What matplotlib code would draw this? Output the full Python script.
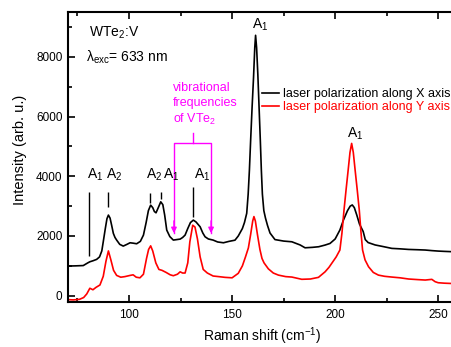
import matplotlib
matplotlib.use("Agg")
import matplotlib.pyplot as plt
from matplotlib.ticker import MultipleLocator

plt.rcParams['font.family'] = ['Liberation Sans', 'DejaVu Sans']
plt.rcParams['mathtext.fontset'] = 'custom'
plt.rcParams['mathtext.rm'] = 'Liberation Sans'
plt.rcParams['mathtext.it'] = 'Liberation Sans:italic'

# Raman spectra, laser polarization along X (black) and Y (red)
x_pol_shift = [70, 74, 77.8, 80, 81, 82.5, 84.3, 85.7, 86.8, 87.5, 88.5, 89.3, 90, 90.8, 91.6,
               92.4, 93.2, 94, 95.5, 97.2, 99, 100.5, 102, 103.7, 105.5, 107, 108.3, 109.4,
               110.5, 111.5, 112.3, 113.1, 114.2, 115.4, 116.4, 117.3, 118.3, 119.8, 121.5,
               123.2, 124.8, 126, 127.2, 128.5, 129.8, 131.2, 132.5, 134.5, 135.8, 136.9,
               138.5, 140.8, 143, 145.8, 148.5, 151.4, 153, 155, 156, 157.1, 157.8, 158.4,
               159.0, 159.7, 160.4, 161.0, 161.4, 161.9, 162.5, 163.1, 163.7, 164.2, 164.7,
               165.4, 166.2, 167.2, 168.4, 170.8, 175, 179, 183, 185.4, 189, 192, 195.1,
               197.5, 200, 202.3, 204, 206, 207.3, 208.3, 209.3, 210.5, 211.8, 213.6, 214.6,
               216, 219.4, 223, 227.5, 231.5, 235.6, 240, 243.7, 247, 250, 253, 256.5]
x_pol_int = [993, 1000, 1010, 1100, 1137, 1170, 1217, 1300, 1500, 1806, 2250, 2580, 2700, 2600,
             2350, 2087, 1950, 1863, 1720, 1662, 1720, 1773, 1760, 1740, 1820, 2030, 2450, 2850,
             3033, 2950, 2820, 2776, 2950, 3144, 3050, 2700, 2197, 1980, 1863, 1880, 1896, 1950,
             2030, 2250, 2450, 2532, 2470, 2308, 2100, 1973, 1900, 1863, 1800, 1773, 1820, 1860,
             2000, 2250, 2450, 2760, 3400, 4200, 5200, 6300, 7300, 8300, 8720, 8300, 7400, 6300,
             5200, 4200, 3400, 2850, 2600, 2350, 2100, 1880, 1830, 1806, 1700, 1605, 1620, 1640,
             1696, 1750, 1900, 2200, 2530, 2850, 3000, 3040, 2950, 2700, 2400, 2150, 1880, 1780,
             1700, 1650, 1585, 1570, 1550, 1540, 1530, 1510, 1495, 1485, 1475]

y_pol_shift = [70, 73, 76, 78, 79.5, 81, 82.5, 84, 85.9, 87.5, 88.8, 90, 91.2, 92.5, 94, 96, 98,
               100.5, 102, 103.5, 105.3, 107, 108.5, 109.5, 110.5, 111.5, 113, 114.5, 116, 118,
               120, 121.5, 123.5, 124.8, 126, 127.2, 128.5, 129.5, 130.9, 132, 133.2, 134.5, 136,
               138, 140.8, 143.5, 146.6, 150, 153, 155, 156.5, 157.9, 159, 160, 160.6, 161.3,
               162.3, 163.5, 164.5, 165.5, 167.6, 170, 172.5, 176, 179, 183.8, 188, 191.9, 195.1,
               197, 199, 200.5, 202.3, 203.3, 204.3, 205.3, 206.3, 207.2, 208.0, 208.8, 209.7,
               210.7, 211.7, 212.5, 213.3, 214.5, 216.2, 218.5, 221, 224, 227.5, 231.5, 235.6,
               240, 243.7, 246.9, 248.5, 250, 253, 256.5]
y_pol_int = [-130, -140, -120, -60, 60, 250, 200, 280, 360, 650, 1150, 1500, 1200, 850, 680, 620,
             640, 680, 700, 620, 600, 720, 1250, 1550, 1670, 1500, 1100, 880, 850, 780, 700, 670,
             720, 800, 760, 760, 1100, 1800, 2360, 2300, 1900, 1300, 880, 760, 660, 640, 615, 600,
             750, 1000, 1300, 1600, 2050, 2500, 2650, 2500, 2050, 1550, 1250, 1100, 900, 760, 690,
             640, 625, 550, 560, 615, 800, 950, 1150, 1300, 1530, 2100, 2870, 3550, 4200, 4800,
             5100, 4800, 4200, 3550, 2870, 2150, 1530, 1200, 970, 780, 690, 650, 625, 600, 560,
             540, 525, 548, 470, 435, 420, 410]

# mode labels: text, left x, y ; marker lines: x, bottom, top
mode_labels = ['A$_1$', 'A$_2$', 'A$_2$', 'A$_1$', 'A$_1$', 'A$_1$', 'A$_1$']
mode_label_x = [79.8, 88.8, 108.1, 116.3, 131.7, 159.5, 205.9]
mode_label_y = [4050, 4050, 4050, 4050, 4050, 9060, 5430]
marker_x = [80.8, 90.0, 110.2, 115.5, 130.9]
marker_lo = [1330, 2980, 3110, 3230, 2640]
marker_hi = [3480, 3480, 3450, 3480, 3630]

# VTe2 vibrational frequencies
vte2_x = [121.8, 139.8]

fig = plt.figure(figsize=(4.51, 3.47), dpi=100)
ax = fig.add_axes([68 / 451, 45 / 347, 383 / 451, 290 / 347])

ax.plot(x_pol_shift, x_pol_int, color='black', lw=1.2, label='laser polarization along X axis')
ax.plot(y_pol_shift, y_pol_int, color='red', lw=1.2, label='laser polarization along Y axis')

ax.set_xlim(70.4, 256.2)
ax.set_ylim(-210, 9500)
ax.xaxis.set_major_locator(MultipleLocator(50))
ax.xaxis.set_minor_locator(MultipleLocator(25))
ax.yaxis.set_major_locator(MultipleLocator(2000))
ax.yaxis.set_minor_locator(MultipleLocator(1000))
ax.tick_params(which='both', direction='in', top=True, right=False, width=1.2, labelsize=8.5)
ax.tick_params(which='major', length=5)
ax.tick_params(which='minor', length=3)
ax.tick_params(axis='x', pad=5)
ax.tick_params(axis='y', pad=4)
for s in ['left', 'bottom', 'top']:
    ax.spines[s].set_linewidth(1.5)
ax.spines['right'].set_visible(False)

ax.set_xlabel('Raman shift (cm$^{\\mathregular{-1}}$)', fontsize=10)
ax.set_ylabel('Intensity (arb. u.)', fontsize=10.5)
ax.xaxis.set_label_coords(0.508, -0.082)
ax.yaxis.set_label_coords(-0.107, 0.524)

for t, lx, ly in zip(mode_labels, mode_label_x, mode_label_y):
    ax.text(lx, ly, t, fontsize=10, ha='left', va='center')
ax.vlines(marker_x, marker_lo, marker_hi, color='black', lw=1)

ax.text(80.4, 8790, 'WTe$_{\\mathregular{2}}$:V', fontsize=10, va='center')
ax.text(78.9, 7990, 'λ$_{\\mathregular{exc}}$= 633 nm', fontsize=10, va='center')

mag = '#FF00FF'
ax.text(121.2, 7150, 'vibrational\nfrequencies\nof VTe$_{\\mathregular{2}}$', color=mag,
        fontsize=9, va='top', ha='left', linespacing=1.3)
ax.plot([vte2_x[0], vte2_x[0], vte2_x[1], vte2_x[1]], [2100, 5120, 5120, 2100], color=mag, lw=1)
ax.plot([sum(vte2_x) / 2] * 2, [5120, 5446], color=mag, lw=1)
for vx in vte2_x:
    ax.annotate('', xy=(vx, 2000), xytext=(vx, 2600),
                arrowprops=dict(arrowstyle='-|>', color=mag, lw=1, mutation_scale=8))

ax.legend(loc='upper left', bbox_to_anchor=(262 / 451, 1 - 88 / 347), bbox_transform=fig.transFigure,
          frameon=False, fontsize=9, handlelength=1.35, handletextpad=0.3, labelspacing=0.1,
          borderpad=0, borderaxespad=0, labelcolor='linecolor')

fig.savefig('out.png', dpi=100)
